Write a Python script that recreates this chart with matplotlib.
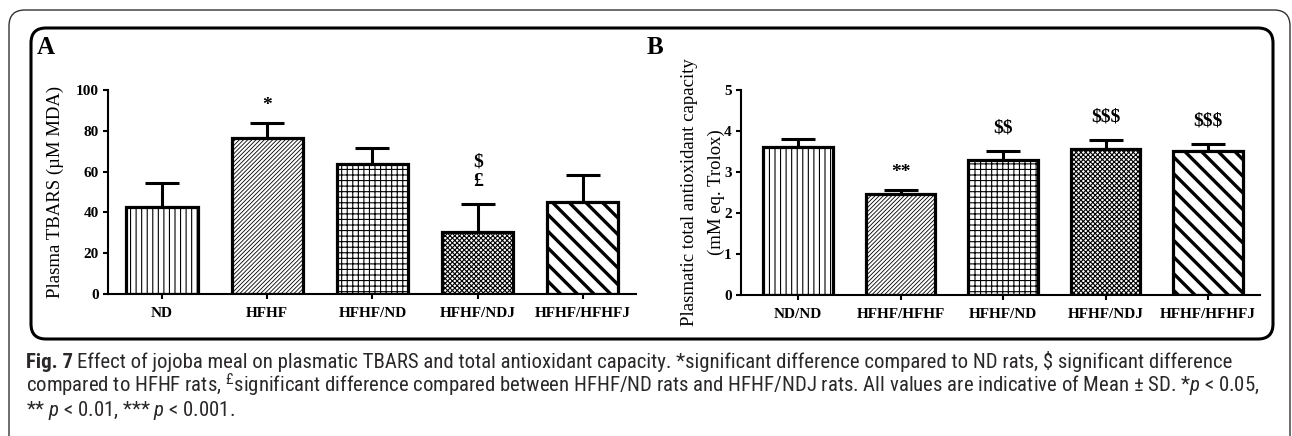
import matplotlib.pyplot as plt
import numpy as np
from matplotlib import font_manager
from matplotlib.patches import FancyBboxPatch

# panel A: plasma TBARS
groups_a = ["ND", "HFHF", "HFHF/ND", "HFHF/NDJ", "HFHF/HFHFJ"]
tbars_mean = [42.5, 76.5, 63.5, 30.5, 45.0]
tbars_sd = [12.0, 7.5, 8.0, 13.5, 13.5]
marks_a = ["", "*", "", "$\n£", ""]

# panel B: total antioxidant capacity
groups_b = ["ND/ND", "HFHF/HFHF", "HFHF/ND", "HFHF/NDJ", "HFHF/HFHFJ"]
tac_mean = [3.62, 2.47, 3.30, 3.55, 3.52]
tac_sd = [0.19, 0.09, 0.21, 0.23, 0.16]
marks_b = ["", "**", "$$", "$$$", "$$$"]

hatches = ["|||", "////////", "+++", "xxxxxxx", "\\\\"]
hatch_lw = [0.8, 0.6, 0.8, 0.8, 2.4]

# pick a narrow sans for the caption if one is installed
fonts = font_manager.fontManager.ttflist
cap_font, cap_stretch = "DejaVu Sans", "normal"
for name in ["Liberation Sans Narrow", "Roboto Condensed", "Open Sans Condensed"]:
    if any(f.name == name for f in fonts):
        cap_font = name
        break
else:
    for name in ["Open Sans", "Roboto", "Noto Sans", "DejaVu Sans"]:
        if any(f.name == name and f.stretch in ("condensed", "semi-condensed", 500, 300)
               for f in fonts):
            cap_font, cap_stretch = name, "condensed"
            break
cap_color = "#2b2829"
plt.rcParams["mathtext.fontset"] = "custom"
plt.rcParams["mathtext.rm"] = cap_font
plt.rcParams["mathtext.it"] = cap_font + ":italic"
serif = "Liberation Serif"

W, H = 1292, 436
fig = plt.figure(figsize=(W / 100, H / 100), dpi=100)

# background axes in pixel units for frames, panel letters and caption
bg = fig.add_axes([0, 0, 1, 1], zorder=-1)
bg.set_xlim(0, W)
bg.set_ylim(H, 0)
bg.axis("off")
bg.add_patch(FancyBboxPatch((9, 10), 1281, 470, boxstyle="round,pad=0,rounding_size=16",
                            fill=False, lw=1.0, ec="#333333", clip_on=False))
bg.add_patch(FancyBboxPatch((31, 28), 1242, 311, boxstyle="round,pad=0,rounding_size=15",
                            fill=False, lw=2.2, ec="black"))
bg.text(46, 48, "A", fontsize=18, fontweight="bold", family=serif, ha="center", va="center")
bg.text(655, 47, "B", fontsize=18, fontweight="bold", family=serif, ha="center", va="center")


def panel(rect, groups, mean, sd, marks, ymax, step, xlim, ylabel, label_x, linespacing=1.0):
    ax = fig.add_axes(rect)
    x = np.arange(len(groups))
    for i in range(len(groups)):
        with plt.rc_context({"hatch.linewidth": hatch_lw[i]}):
            b = ax.bar(x[i], mean[i], width=0.675, color="white", edgecolor="black",
                       linewidth=2.3, hatch=hatches[i], zorder=2)
        for p in b:
            if hasattr(p, "set_hatch_linewidth"):
                p.set_hatch_linewidth(hatch_lw[i])
    ax.errorbar(x, mean, yerr=[np.zeros(len(sd)), sd], fmt="none", ecolor="black",
                elinewidth=2.2, capsize=12, capthick=2.2, zorder=1)
    for i, m in enumerate(marks):
        if not m:
            continue
        off = 6.5 if m.startswith("*") else 10.5
        ax.annotate(m, (x[i], mean[i] + sd[i]), xytext=(0, off), textcoords="offset points",
                    ha="center", va="bottom", fontsize=14, fontweight="bold", family=serif,
                    linespacing=1.2, annotation_clip=False).set_parse_math(False)
    ax.set_xlim(*xlim)
    ax.set_ylim(0, ymax)
    ax.set_yticks(np.arange(0, ymax + step / 2, step))
    ax.set_xticks(x, groups)
    for s in ["top", "right"]:
        ax.spines[s].set_visible(False)
    for s in ["left", "bottom"]:
        ax.spines[s].set_linewidth(1.5)
    ax.tick_params(length=3.6, width=1.5, labelsize=11, pad=3)
    ax.tick_params(axis="x", pad=6)
    for t in ax.get_xticklabels() + ax.get_yticklabels():
        t.set_family(serif)
        t.set_fontweight("bold")
    ax.set_ylabel(ylabel, family=serif, fontsize=13.5, va="center", linespacing=linespacing)
    ax.yaxis.set_label_coords(label_x, 0.5)
    return ax


panel([108 / W, 1 - 294 / H, 528 / W, 204 / H], groups_a, tbars_mean, tbars_sd, marks_a,
      100, 20, (-0.513, 4.504), "Plasma TBARS (µM MDA)", (55 - 108) / 528)
panel([741 / W, 1 - 295 / H, 519 / W, 205 / H], groups_b, tac_mean, tac_sd, marks_b,
      5, 1, (-0.556, 4.507), "Plasmatic total antioxidant capacity\n(mM eq. Trolox)",
      (703 - 741) / 519, linespacing=1.7)

# caption, sized so that the first line fills the frame width
cap1 = ("Effect of jojoba meal on plasmatic TBARS and total antioxidant capacity. "
        "*significant difference compared to ND rats, $ significant difference")
cap2 = (r"compared to HFHF rats, $^{£}$significant difference compared between HFHF/ND rats "
        r"and HFHF/NDJ rats. All values are indicative of Mean ± SD. *$p$ < 0.05,")
cap3 = r"** $p$ < 0.01, *** $p$ < 0.001."
kw = dict(family=cap_font, stretch=cap_stretch, color=cap_color, va="baseline")

renderer = fig.canvas.get_renderer()
size = 12
tb = bg.text(26, 368, "Fig. 7", fontsize=size, fontweight="bold", **kw)
t1 = bg.text(0, 368, cap1, fontsize=size, parse_math=False, **kw)
wb = tb.get_window_extent(renderer).width
w1 = t1.get_window_extent(renderer).width
size = size * (1233 - 26) / (wb + w1 + 5)
tb.set_fontsize(size)
t1.set_fontsize(size)
wb = tb.get_window_extent(renderer).width
t1.set_x(26 + wb + 4)
bg.text(26, 392, cap2, fontsize=size, **kw)
bg.text(26, 416, cap3, fontsize=size, **kw)

fig.savefig("out.png", dpi=100)
